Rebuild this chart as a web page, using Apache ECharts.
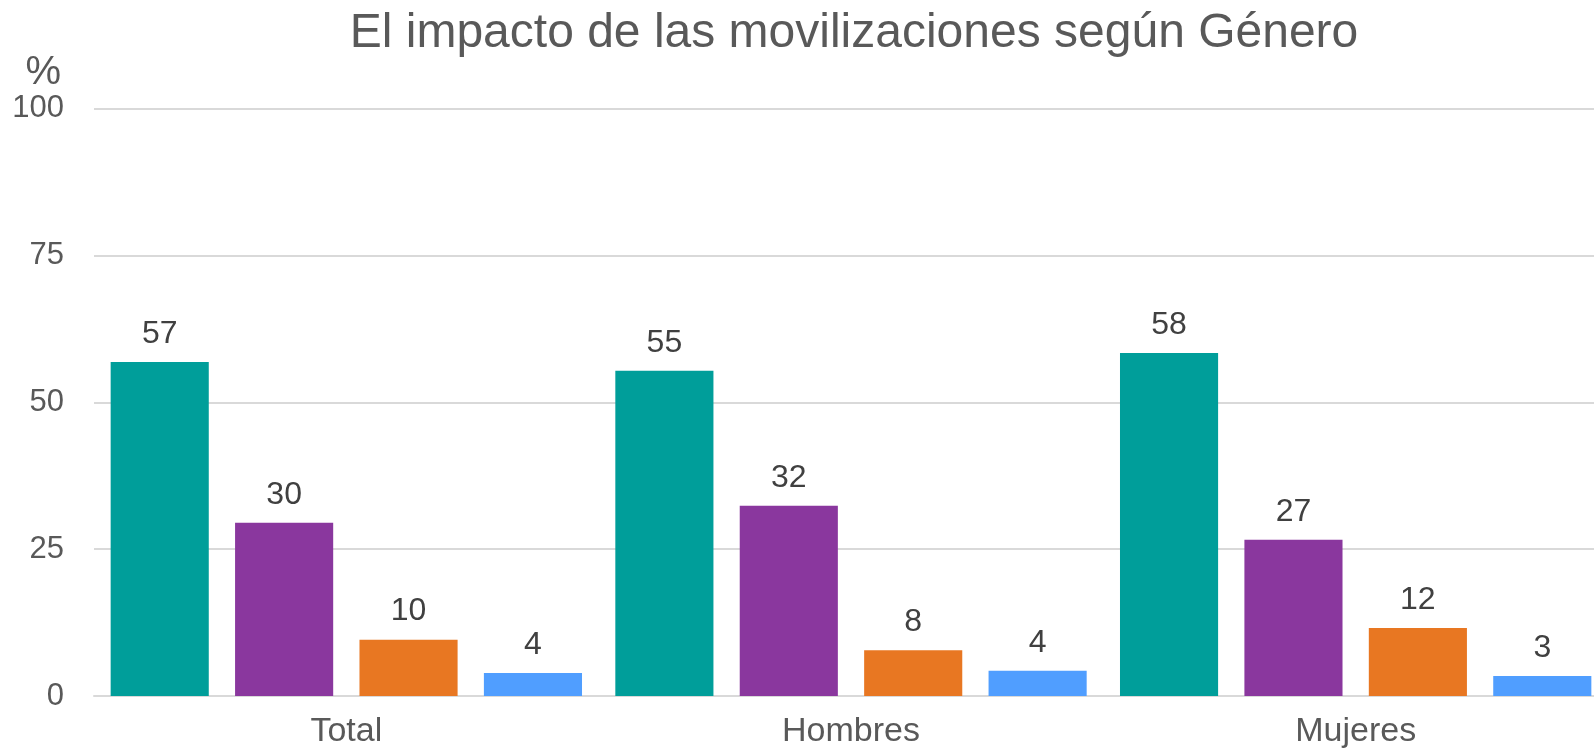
<!DOCTYPE html>
<html>
<head>
<meta charset="utf-8">
<script src="https://cdn.jsdelivr.net/npm/echarts@6/dist/echarts.min.js"></script>
<style>
  html, body { margin: 0; padding: 0; background: #fff; overflow: hidden; }
  /* el área del gráfico sobrepasa el borde derecho, como en el original */
  #chart { width: 1608px; height: 749px; }
</style>
</head>
<body>
<div id="chart"></div>
<script>
// categorías del eje x
const categories = ["Total", "Hombres", "Mujeres"];

// valores por serie (%)
const serie1 = [56.9, 55.4, 58.4];
const serie2 = [29.5, 32.4, 26.6];
const serie3 = [9.6, 7.8, 11.6];
const serie4 = [3.9, 4.3, 3.4];

// colores
const colors = ["#009E9A", "#8A379E", "#E87722", "#509EFF"];

const chart = echarts.init(document.getElementById("chart"));

const makeSeries = (data, i) => ({
  name: "s" + i,
  type: "bar",
  data: data,
  barGap: "26.8%",
  barCategoryGap: "6.6%",
  itemStyle: { color: colors[i] },
  label: {
    show: true,
    position: "top",
    distance: 12,
    fontFamily: "Liberation Sans, Arial, sans-serif",
    fontSize: 32,
    color: "#404040",
    formatter: (p) => Math.round(p.value),
  },
});

const option = {
  animation: false,
  title: {
    text: "El impacto de las movilizaciones según Género",
    left: 849,
    top: 5,
    textAlign: "center",
    textStyle: {
      fontFamily: "Liberation Sans, Arial, sans-serif",
      fontSize: 48,
      fontWeight: "normal",
      color: "#595959",
    },
  },
  grid: {
    left: 94,
    right: 0,
    top: 108.8,
    bottom: 52.6,
    containLabel: false,
  },
  xAxis: {
    type: "category",
    data: categories,
    axisLine: { lineStyle: { color: "#d9d9d9", width: 2 } },
    axisTick: { show: false },
    axisLabel: {
      margin: 19,
      fontFamily: "Liberation Sans, Arial, sans-serif",
      fontSize: 34,
      color: "#595959",
    },
  },
  yAxis: {
    type: "value",
    min: 0,
    max: 100,
    interval: 25,
    name: "%",
    nameLocation: "end",
    nameGap: 12,
    nameTextStyle: {
      fontFamily: "Liberation Sans, Arial, sans-serif",
      fontSize: 40,
      color: "#595959",
      align: "right",
      padding: [0, 33, 0, 0],
    },
    axisLine: { show: false },
    axisTick: { show: false },
    splitLine: { lineStyle: { color: "#d9d9d9", width: 2 } },
    axisLabel: {
      margin: 30,
      fontFamily: "Liberation Sans, Arial, sans-serif",
      fontSize: 31,
      color: "#595959",
    },
  },
  series: [serie1, serie2, serie3, serie4].map(makeSeries),
};

chart.setOption(option);
</script>
</body>
</html>
